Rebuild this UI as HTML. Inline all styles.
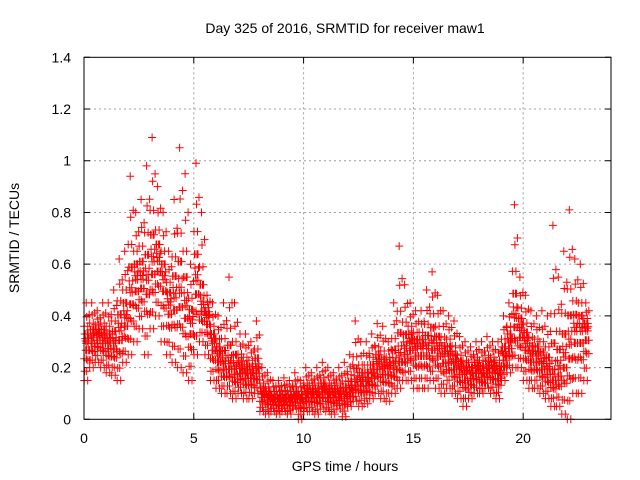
<!DOCTYPE html>
<html><head><meta charset="utf-8"><style>
html,body{margin:0;padding:0;background:#fff}
svg{display:block;font-family:"Liberation Sans",sans-serif}
</style></head><body>
<svg id="chart" width="640" height="480" viewBox="0 0 640 480" xmlns="http://www.w3.org/2000/svg">
<rect width="640" height="480" fill="#fff"/>
<text x="345" y="33" font-size="14" text-anchor="middle">Day 325 of 2016, SRMTID for receiver maw1</text>
<text transform="translate(19,238) rotate(-90)" font-size="14" text-anchor="middle">SRMTID / TECUs</text>
<text x="345" y="471" font-size="14" text-anchor="middle">GPS time / hours</text>
<g id="grid"></g>
<g id="ticks"></g>
<g id="points"></g>
<rect x="84" y="57.3" width="527" height="362" fill="none" stroke="#000" stroke-width="1"/>
</svg>
<script>
const binStart = 0, binWidth = 0.25;
const loVals = [.15,.20,.22,.20,.18,.17,.15,.22,.25,.30,.35,.25,.35,.40,.30,.25,.22,.20,.18,.15,.25,.30,.25,.15,.12,.10,.10,.08,.10,.08,.08,.10,.03,.02,.03,.02,.03,.02,.04,.00,.03,.03,.02,.04,.03,.02,.04,.01,.05,.07,.05,.06,.08,.10,.08,.07,.10,.12,.15,.15,.12,.12,.12,.15,.12,.10,.12,.10,.08,.05,.08,.10,.10,.12,.10,.08,.15,.18,.20,.20,.15,.12,.12,.10,.08,.05,.05,.02,.00,.10,.10,.15];
const midVals = [.30,.32,.33,.32,.30,.30,.35,.40,.50,.55,.55,.55,.62,.62,.55,.45,.48,.50,.45,.38,.55,.45,.40,.30,.25,.22,.22,.20,.20,.18,.18,.20,.10,.09,.08,.08,.08,.08,.09,.08,.10,.10,.10,.12,.10,.10,.10,.10,.12,.15,.15,.15,.18,.22,.20,.20,.22,.25,.28,.30,.28,.28,.28,.30,.28,.25,.25,.22,.20,.18,.18,.20,.18,.20,.20,.18,.25,.30,.40,.35,.30,.25,.25,.22,.20,.18,.20,.25,.30,.35,.35,.35];
const hiVals = [.45,.45,.42,.45,.45,.50,.62,.65,.94,.80,.85,.98,1.09,.90,.80,.65,.85,1.05,.95,.60,.99,.80,.48,.45,.40,.45,.55,.45,.33,.33,.30,.38,.20,.18,.15,.15,.16,.15,.18,.15,.20,.18,.20,.22,.20,.18,.20,.22,.25,.38,.30,.30,.33,.37,.36,.30,.45,.67,.52,.45,.42,.42,.50,.57,.48,.42,.40,.38,.32,.30,.28,.30,.30,.32,.30,.30,.40,.45,.83,.55,.48,.42,.40,.42,.40,.75,.55,.65,.81,.62,.60,.45];
const xTicks = [0,5,10,15,20];
const yTicks = [0,0.2,0.4,0.6,0.8,1,1.2,1.4];
const yTickLabels = ["0","0.2","0.4","0.6","0.8","1","1.2","1.4"];

const X0=84, X1=611, Y0=419.3, Y1=57.3, XMAX=24, YMAX=1.4;
const xs = v => X0 + v/XMAX*(X1-X0);
const ys = v => Y0 - v/YMAX*(Y0-Y1);
const NS="http://www.w3.org/2000/svg";
const grid=document.getElementById('grid'), ticks=document.getElementById('ticks'), pts=document.getElementById('points');

xTicks.forEach(t=>{
  const x=xs(t);
  if(t>0){const l=document.createElementNS(NS,'line');
    
    
    l.setAttribute('x1',x);l.setAttribute('x2',x);l.setAttribute('y1',Y1);l.setAttribute('y2',Y0);
    l.setAttribute('stroke','#a0a0a0');l.setAttribute('stroke-dasharray','2,3');grid.appendChild(l);}
  const tk=document.createElementNS(NS,'path');
  
  
  tk.setAttribute('d',`M${x},${Y0}v-6M${x},${Y1}v6`);tk.setAttribute('stroke','#000');ticks.appendChild(tk);
  const tx=document.createElementNS(NS,'text');
  
  
  tx.setAttribute('x',x);tx.setAttribute('y',443);tx.setAttribute('font-size','14');tx.setAttribute('text-anchor','middle');
  tx.textContent=t;ticks.appendChild(tx);
});
yTicks.forEach((t,i)=>{
  const y=ys(t);
  if(t>0&&t<YMAX){const l=document.createElementNS(NS,'line');
    
    
    l.setAttribute('x1',X0);l.setAttribute('x2',X1);l.setAttribute('y1',y);l.setAttribute('y2',y);
    l.setAttribute('stroke','#a0a0a0');l.setAttribute('stroke-dasharray','2,3');grid.appendChild(l);}
  const tk=document.createElementNS(NS,'path');
  
  
  tk.setAttribute('d',`M${X0},${y}h6M${X1},${y}h-6`);tk.setAttribute('stroke','#000');ticks.appendChild(tk);
  const tx=document.createElementNS(NS,'text');
  
  
  tx.setAttribute('x',71);tx.setAttribute('y',y+5);tx.setAttribute('font-size','14');tx.setAttribute('text-anchor','end');
  tx.textContent=yTickLabels[i];ticks.appendChild(tx);
});

const fracs=[0,.12,.22,.3,.37,.43,.48,.5,.53,.58,.64,.7,.78,.87,1];
loVals.forEach((lo,i)=>{
  const mid=midVals[i], hi=hiVals[i];
  let d='';
  fracs.forEach((f,j)=>{
    for(let k=0;k<2;k++){
      const ff = Math.max(0, Math.min(1, f + ((j*7+k*5)%5-2)*0.02));
      const v = ff<0.5 ? lo+(mid-lo)*ff*2 : mid+(hi-mid)*(ff-0.5)*2;
      if(ff>0.8 && k>0) continue;
      const t = binStart + i*binWidth + ((j*5+k*7)%11+0.5)/11*binWidth;
      const x=xs(t), y=ys(v);
      d+=`M${(x-4).toFixed(1)},${y.toFixed(1)}h8M${x.toFixed(1)},${(y-4).toFixed(1)}v8`;
    }
  });
  const p=document.createElementNS(NS,'path');
  
  
  p.setAttribute('d',d);p.setAttribute('stroke','#ff0000');p.setAttribute('stroke-width','1');p.setAttribute('fill','none');
  pts.appendChild(p);
});
</script>
</body></html>
